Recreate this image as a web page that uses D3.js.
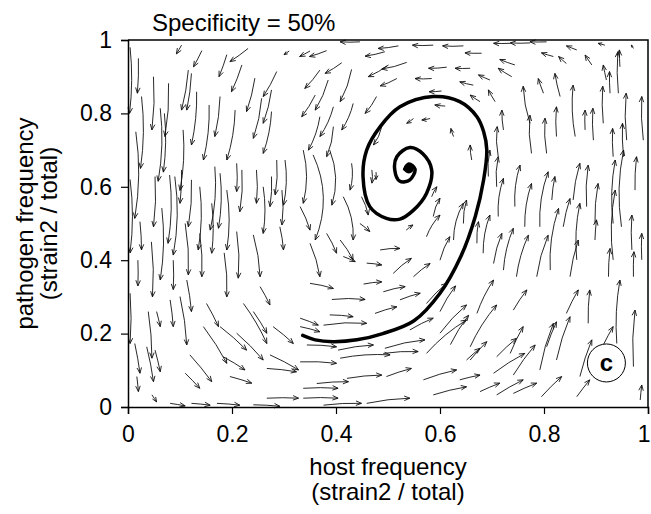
<!DOCTYPE html>
<html>
<head>
<meta charset="utf-8">
<script src="https://cdn.jsdelivr.net/npm/d3@7"></script>
<style>
  body { margin: 0; background: #fff; }
  svg { display: block; font-family: "Liberation Sans", Arial, Helvetica, sans-serif; }
</style>
</head>
<body>
<script>
const title = 'Specificity = 50%'
const majorTicks = [0, 0.2, 0.4, 0.6, 0.8, 1]
const minorTicks = [0.05, 0.1, 0.15, 0.25, 0.3, 0.35, 0.45, 0.5, 0.55, 0.65, 0.7, 0.75, 0.85, 0.9, 0.95]
const xLabel = ['host frequency', '(strain2 / total)']
const yLabel = ['pathogen frequency', '(strain2 / total)']
const panelLetter = 'c'
const panelLetterAt = [0.92, 0.12]
const fixedPoint = [0.54, 0.65]

// thick trajectory (host, pathogen)
const trajectory = [
  [0.336, 0.195], [0.36, 0.183], [0.394, 0.178], [0.44, 0.183], [0.49, 0.2], [0.55, 0.235],
  [0.6, 0.31], [0.64, 0.41], [0.668, 0.52], [0.684, 0.62], [0.69, 0.7], [0.684, 0.75],
  [0.671, 0.791], [0.638, 0.832], [0.587, 0.846], [0.523, 0.818], [0.485, 0.764], [0.459, 0.7],
  [0.452, 0.627], [0.465, 0.546], [0.497, 0.514], [0.523, 0.512], [0.548, 0.535], [0.574, 0.582],
  [0.584, 0.646], [0.567, 0.69], [0.542, 0.707], [0.517, 0.682], [0.513, 0.646], [0.523, 0.615],
  [0.542, 0.619], [0.552, 0.648], [0.54, 0.662], [0.532, 0.648]
]

// direction-field arrows: [x tail, y tail, x head, y head]
const arrows = [
  // upper left
  [0.02, 0.95, 0.018, 0.855], [0.103, 0.986, 0.093, 0.962], [0.142, 0.971, 0.126, 0.927],
  [0.231, 0.977, 0.196, 0.941], [0.049, 0.9, 0.046, 0.755], [0.026, 0.846, 0.024, 0.65],
  [0.078, 0.882, 0.071, 0.737], [0.116, 0.918, 0.103, 0.809], [0.122, 0.909, 0.113, 0.809],
  [0.132, 0.859, 0.122, 0.714], [0.177, 0.846, 0.167, 0.737], [0.219, 0.932, 0.199, 0.859],
  [0.244, 0.896, 0.228, 0.805], [0.286, 0.914, 0.26, 0.846], [0.276, 0.864, 0.26, 0.773],
  [0.257, 0.841, 0.241, 0.732], [0.156, 0.823, 0.145, 0.673], [0.206, 0.809, 0.19, 0.673],
  [0.276, 0.805, 0.26, 0.691], [0.015, 0.75, 0.013, 0.514], [0.106, 0.755, 0.1, 0.59],
  [0.062, 0.814, 0.058, 0.615], [0.07, 0.8, 0.068, 0.64], [0.35, 0.97, 0.33, 0.955],
  [0.31, 0.97, 0.3, 0.96], [0.004, 0.98, 0.003, 0.8], [0.19, 0.96, 0.175, 0.9],
  // middle left
  [0.052, 0.628, 0.049, 0.491], [0.08, 0.632, 0.077, 0.446], [0.09, 0.628, 0.087, 0.414],
  [0.103, 0.646, 0.1, 0.555], [0.122, 0.619, 0.116, 0.491], [0.138, 0.6, 0.135, 0.428],
  [0.167, 0.655, 0.158, 0.482], [0.177, 0.637, 0.174, 0.487], [0.19, 0.591, 0.19, 0.428],
  [0.209, 0.664, 0.209, 0.587], [0.219, 0.646, 0.215, 0.532], [0.247, 0.646, 0.247, 0.555],
  [0.26, 0.6, 0.26, 0.473], [0.276, 0.628, 0.273, 0.546], [0.286, 0.673, 0.283, 0.578],
  [0.302, 0.673, 0.299, 0.55], [0.296, 0.591, 0.296, 0.496], [0.023, 0.505, 0.026, 0.428],
  [0.019, 0.4, 0.019, 0.33], [0.065, 0.542, 0.062, 0.346], [0.11, 0.5, 0.116, 0.36],
  [0.087, 0.4, 0.087, 0.32], [0.161, 0.555, 0.161, 0.419], [0.138, 0.473, 0.142, 0.355],
  [0.209, 0.478, 0.212, 0.351], [0.241, 0.469, 0.254, 0.355], [0.292, 0.491, 0.299, 0.428],
  [0.004, 0.62, 0.004, 0.42], [0.045, 0.45, 0.047, 0.3], [0.185, 0.42, 0.19, 0.3],
  // lower left
  [0.004, 0.31, 0.004, 0.173], [0.039, 0.26, 0.046, 0.133], [0.013, 0.173, 0.023, 0.092],
  [0.017, 0.083, 0.02, 0.042], [0.052, 0.155, 0.062, 0.096], [0.036, 0.164, 0.049, 0.069],
  [0.046, 0.033, 0.055, 0.014], [0.081, 0.292, 0.087, 0.219], [0.1, 0.301, 0.113, 0.169],
  [0.11, 0.092, 0.138, 0.051], [0.119, 0.142, 0.161, 0.069], [0.145, 0.219, 0.19, 0.119],
  [0.183, 0.137, 0.225, 0.101], [0.196, 0.083, 0.238, 0.065], [0.222, 0.282, 0.267, 0.173],
  [0.081, 0.01, 0.11, 0.003], [0.122, 0.01, 0.158, 0.005], [0.171, 0.01, 0.215, 0.005],
  [0.055, 0.26, 0.062, 0.219], [0.113, 0.346, 0.122, 0.26], [0.151, 0.282, 0.174, 0.219],
  [0.177, 0.219, 0.228, 0.155], [0.209, 0.201, 0.26, 0.128], [0.241, 0.26, 0.267, 0.201],
  [0.279, 0.219, 0.318, 0.173], [0.254, 0.328, 0.273, 0.278], [0.273, 0.142, 0.328, 0.101],
  [0.267, 0.105, 0.324, 0.096], [0.241, 0.006, 0.292, 0.002], [0.267, 0.024, 0.328, 0.024],
  // lower middle
  [0.453, 0.335, 0.488, 0.341], [0.491, 0.314, 0.533, 0.328], [0.392, 0.293, 0.456, 0.293],
  [0.475, 0.255, 0.517, 0.273], [0.388, 0.251, 0.433, 0.246], [0.376, 0.223, 0.459, 0.228],
  [0.331, 0.242, 0.366, 0.223], [0.344, 0.169, 0.401, 0.164], [0.404, 0.155, 0.472, 0.169],
  [0.408, 0.133, 0.504, 0.142], [0.494, 0.16, 0.571, 0.183], [0.421, 0.078, 0.488, 0.087],
  [0.337, 0.051, 0.404, 0.051], [0.337, 0.024, 0.404, 0.024], [0.459, 0.01, 0.542, 0.024],
  [0.568, 0.074, 0.632, 0.101], [0.587, 0.033, 0.651, 0.055], [0.574, 0.146, 0.651, 0.237],
  [0.35, 0.337, 0.395, 0.323], [0.523, 0.292, 0.562, 0.31], [0.574, 0.282, 0.613, 0.337],
  [0.542, 0.21, 0.587, 0.242], [0.497, 0.083, 0.545, 0.105], [0.363, 0.064, 0.424, 0.069],
  [0.376, 0.005, 0.449, 0.01], [0.6, 0.201, 0.651, 0.278], [0.638, 0.074, 0.677, 0.087],
  [0.651, 0.128, 0.677, 0.16], [0.491, 0.146, 0.558, 0.151], [0.331, 0.123, 0.401, 0.119],
  [0.331, 0.219, 0.369, 0.205], [0.6, 0.26, 0.63, 0.33], [0.62, 0.17, 0.655, 0.25],
  // centre
  [0.337, 0.7, 0.337, 0.555], [0.356, 0.687, 0.36, 0.455], [0.388, 0.7, 0.392, 0.55],
  [0.414, 0.573, 0.433, 0.455], [0.382, 0.473, 0.401, 0.419], [0.408, 0.455, 0.433, 0.401],
  [0.446, 0.5, 0.465, 0.478], [0.485, 0.428, 0.523, 0.432], [0.51, 0.364, 0.545, 0.405],
  [0.574, 0.464, 0.6, 0.523], [0.626, 0.455, 0.645, 0.555], [0.43, 0.664, 0.427, 0.591],
  [0.469, 0.646, 0.469, 0.61], [0.477, 0.64, 0.477, 0.62], [0.35, 0.446, 0.369, 0.355],
  [0.331, 0.546, 0.35, 0.482], [0.459, 0.392, 0.488, 0.387], [0.414, 0.41, 0.437, 0.396],
  [0.6, 0.4, 0.619, 0.464], [0.549, 0.355, 0.581, 0.391], [0.587, 0.519, 0.6, 0.569],
  [0.584, 0.573, 0.594, 0.6], [0.645, 0.5, 0.651, 0.564], [0.535, 0.482, 0.548, 0.496],
  [0.449, 0.573, 0.462, 0.523],
  // upper middle
  [0.446, 0.995, 0.408, 0.995], [0.382, 0.971, 0.349, 0.955], [0.52, 0.984, 0.481, 0.977],
  [0.494, 0.968, 0.456, 0.956], [0.587, 0.986, 0.547, 0.986], [0.645, 0.984, 0.605, 0.984],
  [0.68, 0.964, 0.648, 0.965], [0.411, 0.938, 0.379, 0.909], [0.536, 0.939, 0.488, 0.921],
  [0.501, 0.932, 0.462, 0.9], [0.43, 0.92, 0.408, 0.832], [0.369, 0.918, 0.34, 0.868],
  [0.613, 0.926, 0.578, 0.923], [0.658, 0.923, 0.629, 0.923], [0.517, 0.895, 0.485, 0.875],
  [0.584, 0.895, 0.552, 0.895], [0.664, 0.877, 0.638, 0.886], [0.603, 0.861, 0.579, 0.859],
  [0.677, 0.832, 0.658, 0.85], [0.385, 0.891, 0.36, 0.809], [0.36, 0.85, 0.334, 0.791],
  [0.478, 0.846, 0.456, 0.8], [0.433, 0.827, 0.411, 0.755], [0.395, 0.818, 0.369, 0.737],
  [0.61, 0.82, 0.59, 0.823], [0.581, 0.786, 0.565, 0.782], [0.549, 0.786, 0.536, 0.773],
  [0.488, 0.764, 0.472, 0.714], [0.626, 0.737, 0.621, 0.759], [0.661, 0.673, 0.658, 0.714],
  [0.395, 0.764, 0.382, 0.682], [0.369, 0.791, 0.347, 0.7],
  // upper right
  [0.805, 0.995, 0.773, 0.995], [0.773, 0.992, 0.735, 0.992], [0.735, 0.991, 0.703, 0.991],
  [0.863, 0.973, 0.843, 0.984], [0.917, 0.986, 0.904, 0.991], [0.972, 0.977, 0.968, 0.986],
  [0.818, 0.955, 0.795, 0.965], [0.843, 0.936, 0.828, 0.955], [0.892, 0.932, 0.879, 0.959],
  [0.946, 0.927, 0.945, 0.973], [0.744, 0.932, 0.715, 0.947], [0.738, 0.9, 0.712, 0.923],
  [0.696, 0.891, 0.674, 0.905], [0.706, 0.832, 0.693, 0.864], [0.799, 0.855, 0.789, 0.895],
  [0.831, 0.846, 0.821, 0.909], [0.92, 0.891, 0.914, 0.932], [0.927, 0.855, 0.926, 0.914],
  [0.943, 0.855, 0.942, 0.968], [0.773, 0.773, 0.76, 0.874], [0.824, 0.737, 0.824, 0.818],
  [0.722, 0.755, 0.719, 0.809], [0.86, 0.737, 0.856, 0.877], [0.914, 0.773, 0.913, 0.874],
  [0.959, 0.727, 0.958, 0.855], [0.991, 0.727, 0.988, 0.846], [0.879, 0.755, 0.879, 0.809],
  [0.895, 0.727, 0.894, 0.814], [0.776, 0.691, 0.773, 0.795], [0.805, 0.691, 0.802, 0.787],
  [0.712, 0.682, 0.71, 0.764], [0.933, 0.682, 0.932, 0.759], [0.953, 0.682, 0.951, 0.773],
  // middle right
  [0.693, 0.628, 0.696, 0.7], [0.709, 0.6, 0.712, 0.682], [0.712, 0.519, 0.722, 0.623],
  [0.744, 0.546, 0.754, 0.659], [0.763, 0.491, 0.776, 0.609], [0.792, 0.491, 0.808, 0.641],
  [0.815, 0.564, 0.821, 0.628], [0.837, 0.491, 0.85, 0.568], [0.856, 0.564, 0.869, 0.664],
  [0.882, 0.546, 0.885, 0.659], [0.898, 0.5, 0.904, 0.609], [0.933, 0.5, 0.937, 0.673],
  [0.969, 0.428, 0.969, 0.523], [0.988, 0.401, 0.988, 0.473], [0.975, 0.591, 0.978, 0.682],
  [0.671, 0.446, 0.674, 0.505], [0.683, 0.419, 0.696, 0.523], [0.703, 0.391, 0.719, 0.473],
  [0.722, 0.373, 0.741, 0.487], [0.747, 0.355, 0.77, 0.468], [0.786, 0.355, 0.808, 0.468],
  [0.812, 0.373, 0.828, 0.541], [0.85, 0.355, 0.866, 0.455], [0.863, 0.401, 0.869, 0.555],
  [0.924, 0.355, 0.927, 0.432], [0.933, 0.401, 0.937, 0.591], [0.949, 0.491, 0.953, 0.7],
  [0.898, 0.455, 0.901, 0.51], [0.972, 0.355, 0.973, 0.423],
  // lower right
  [0.671, 0.255, 0.703, 0.346], [0.658, 0.128, 0.69, 0.178], [0.658, 0.164, 0.709, 0.278],
  [0.677, 0.042, 0.715, 0.065], [0.709, 0.033, 0.76, 0.074], [0.741, 0.037, 0.786, 0.065],
  [0.703, 0.092, 0.763, 0.146], [0.741, 0.087, 0.783, 0.169], [0.795, 0.028, 0.834, 0.083],
  [0.792, 0.101, 0.818, 0.228], [0.863, 0.028, 0.888, 0.074], [0.869, 0.083, 0.892, 0.183],
  [0.914, 0.169, 0.933, 0.219], [0.94, 0.173, 0.946, 0.346], [0.972, 0.11, 0.975, 0.264],
  [0.985, 0.019, 0.988, 0.06], [0.735, 0.146, 0.76, 0.219], [0.709, 0.137, 0.747, 0.187],
  [0.824, 0.128, 0.85, 0.246], [0.843, 0.255, 0.866, 0.319], [0.885, 0.228, 0.888, 0.319],
  [0.805, 0.164, 0.824, 0.232], [0.741, 0.264, 0.767, 0.319]
]

const width = 651
const height = 514
const svg = d3.select('body').append('svg').attr('width', width).attr('height', height)

const x = d3.scaleLinear().domain([0, 1]).range([128, 648])
const y = d3.scaleLinear().domain([0, 1]).range([407, 40])
const fmt = d => d === 0 ? '0' : d === 1 ? '1' : d3.format('.1f')(d)

// arrows
const centre = [x(fixedPoint[0]), y(fixedPoint[1])]
const headLen = 6
const headAng = 22 * Math.PI / 180

function arrowPath(a) {
  const x0 = x(a[0]), y0 = y(a[1]), x1 = x(a[2]), y1 = y(a[3])
  const dx = x1 - x0, dy = y1 - y0
  const len = Math.hypot(dx, dy)
  // bend to the left of travel, like a short piece of the orbit
  const r = Math.max(40, Math.hypot((x0 + x1) / 2 - centre[0], (y0 + y1) / 2 - centre[1]))
  const sag = Math.min(len * 0.15, len * len / (8 * r))
  const cx = (x0 + x1) / 2 + (dy / len) * sag * 2
  const cy = (y0 + y1) / 2 - (dx / len) * sag * 2
  const ang = Math.atan2(y1 - cy, x1 - cx)
  const h = Math.min(headLen, len * 0.6)
  const p = d3.path()
  p.moveTo(x0, y0)
  p.quadraticCurveTo(cx, cy, x1, y1)
  p.moveTo(x1 - h * Math.cos(ang - headAng), y1 - h * Math.sin(ang - headAng))
  p.lineTo(x1, y1)
  p.lineTo(x1 - h * Math.cos(ang + headAng), y1 - h * Math.sin(ang + headAng))
  return p.toString()
}

svg.append('g')
  .selectAll('path')
  .data(arrows)
  .join('path')
  .attr('d', arrowPath)
  .style('fill', 'none')
  .style('stroke', '#111')
  .style('stroke-width', 0.9)

// trajectory
const line = d3.line().x(d => x(d[0])).y(d => y(d[1])).curve(d3.curveCatmullRom.alpha(0.5))
svg.append('path')
  .attr('d', line(trajectory))
  .style('fill', 'none')
  .style('stroke', '#000')
  .style('stroke-width', 3.5)
  .style('stroke-linecap', 'round')

svg.append('circle')
  .attr('cx', x(fixedPoint[0])).attr('cy', y(fixedPoint[1])).attr('r', 5)
  .style('fill', '#000')

// frame (top, right)
svg.append('path')
  .attr('d', `M${x(0)},${y(1)}H${x(1)}V${y(0)}`)
  .style('fill', 'none').style('stroke', '#000').style('stroke-width', 1.5)

// axes
const gx = svg.append('g').attr('transform', 'translate(0,' + y(0) + ')')
gx.call(d3.axisBottom(x).tickValues(minorTicks).tickSize(4).tickFormat(''))
gx.call(d3.axisBottom(x).tickValues(majorTicks).tickSize(7).tickPadding(12).tickFormat(fmt))
// the last label sits against the page edge, as in the picture
gx.selectAll('.tick text').filter(d => d === 1).attr('text-anchor', 'end').attr('dx', 2)

const gy = svg.append('g').attr('transform', 'translate(' + x(0) + ',0)')
gy.call(d3.axisLeft(y).tickValues(minorTicks).tickSize(4).tickFormat(''))
gy.call(d3.axisLeft(y).tickValues(majorTicks).tickSize(7).tickPadding(9).tickFormat(fmt))

svg.selectAll('.domain').style('stroke-width', 1.5)
svg.selectAll('.tick line').style('stroke-width', 1.2)
svg.selectAll('.tick text')
  .style('font-size', '23px')
  .style('font-family', '"Liberation Sans", Arial, Helvetica, sans-serif')
  .style('fill', '#000')

// labels
svg.append('text').attr('x', 152).attr('y', 31).text(title)
  .style('font-size', '24px')

svg.append('g').selectAll('text').data(xLabel).join('text')
  .attr('x', (x(0) + x(1)) / 2).attr('y', (d, i) => 475 + i * 25)
  .attr('text-anchor', 'middle').style('font-size', '24px').text(d => d)

svg.append('g').selectAll('text').data(yLabel).join('text')
  .attr('transform', (d, i) => 'translate(' + (33 + i * 24) + ',' + ((y(0) + y(1)) / 2) + ') rotate(-90)')
  .attr('text-anchor', 'middle').style('font-size', '24px').text(d => d)

// panel letter
svg.append('circle')
  .attr('cx', x(panelLetterAt[0])).attr('cy', y(panelLetterAt[1])).attr('r', 19)
  .style('fill', '#fff').style('stroke', '#000').style('stroke-width', 1)
svg.append('text')
  .attr('x', x(panelLetterAt[0])).attr('y', y(panelLetterAt[1]) + 8)
  .attr('text-anchor', 'middle').style('font-size', '24px').style('font-weight', 'bold')
  .text(panelLetter)
</script>
</body>
</html>
